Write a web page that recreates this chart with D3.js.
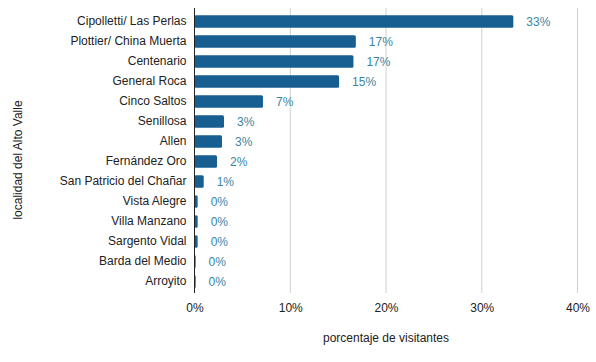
<!DOCTYPE html>
<html><head><meta charset="utf-8">
<script src="https://cdn.jsdelivr.net/npm/d3@7"></script>
<style>body{margin:0;background:#fff}svg{display:block;font-family:"Liberation Sans",Arial,sans-serif}</style>
</head><body><svg id="c" width="596" height="362"></svg>
<script>
const categories = ["Cipolletti/ Las Perlas","Plottier/ China Muerta","Centenario","General Roca","Cinco Saltos","Senillosa","Allen","Fernández Oro","San Patricio del Chañar","Vista Alegre","Villa Manzano","Sargento Vidal","Barda del Medio","Arroyito"];
const values = [33.3,16.85,16.6,15.1,7.15,3.08,2.87,2.35,0.96,0.33,0.33,0.33,0.1,0.1];
const labels = ["33%","17%","17%","15%","7%","3%","3%","2%","1%","0%","0%","0%","0%","0%"];
const xTicks = [0,10,20,30,40];

const svg = d3.select("#c");
const x = d3.scaleLinear().domain([0,40]).range([194.5,577.5]);
const y = d3.scaleBand().domain(categories).range([11.5,291.5]).paddingInner(0.38).paddingOuter(0.19);

// grid
svg.append("g").selectAll("line").data(xTicks.slice(1)).join("line")
  .attr("x1",d=>x(d)).attr("x2",d=>x(d)).attr("y1",8).attr("y2",293)
  .attr("stroke","#d0d0d0").attr("stroke-width",1);

// bars
svg.append("g").selectAll("rect").data(values).join("rect")
  .attr("x",x(0)).attr("y",(d,i)=>y(categories[i]))
  .attr("width",d=>Math.max(1.2,x(d)-x(0))).attr("height",y.bandwidth())
  .attr("rx",1.5).attr("fill","#175e91");

// value labels
svg.append("g").selectAll("text").data(values).join("text")
  .attr("x",d=>x(d)+13).attr("y",(d,i)=>y(categories[i])+y.bandwidth()/2)
  .attr("dy","0.36em").attr("font-size",12).attr("fill","#3a85a2")
  .text((d,i)=>labels[i]);

// y axis
const ya = svg.append("g").attr("transform",`translate(${x(0)},0)`)
  .call(d3.axisLeft(y).tickSize(0).tickPadding(8));
ya.select(".domain").attr("stroke","#222").attr("d","M0,8V293");
ya.selectAll("text").attr("font-size",12).attr("fill","#222").attr("font-family","Liberation Sans, Arial, sans-serif");

// x axis
const xa = svg.append("g").attr("transform","translate(0,293)")
  .call(d3.axisBottom(x).tickValues(xTicks).tickSize(0).tickPadding(10).tickFormat(d=>d+"%"));
xa.select(".domain").remove();
xa.selectAll("text").attr("font-size",12).attr("fill","#222").attr("font-family","Liberation Sans, Arial, sans-serif");

// titles
svg.append("text").attr("x",386).attr("y",342).attr("text-anchor","middle")
  .attr("font-size",12).attr("fill","#222").text("porcentaje de visitantes");
svg.append("text").attr("transform","translate(22,160) rotate(-90)").attr("text-anchor","middle")
  .attr("font-size",12).attr("fill","#222").text("localidad del Alto Valle");
</script></body></html>
